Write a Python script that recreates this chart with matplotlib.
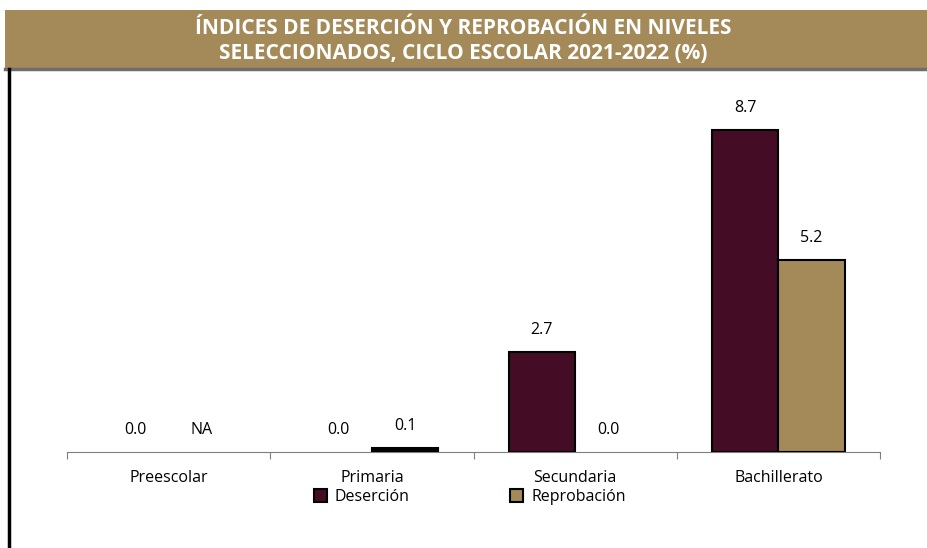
import matplotlib.pyplot as plt
import numpy as np
from matplotlib.patches import Rectangle
from matplotlib.lines import Line2D

# Data
niveles = ["Preescolar", "Primaria", "Secundaria", "Bachillerato"]
desercion = [0.0, 0.0, 2.7, 8.7]
reprobacion = [0.0, 0.1, 0.0, 5.2]
etiq_desercion = ["0.0", "0.0", "2.7", "8.7"]
etiq_reprobacion = ["NA", "0.1", "0.0", "5.2"]

color_des = "#450c25"
color_rep = "#a38a58"

plt.rcParams["font.family"] = ["Open Sans", "DejaVu Sans"]

fig = plt.figure(figsize=(9.27, 5.48), dpi=100)
fig.patch.set_facecolor("white")

# title band
fig.patches.append(Rectangle((5 / 927, 1 - 68 / 548), 1, 58 / 548,
                             transform=fig.transFigure, facecolor=color_rep,
                             edgecolor="none", zorder=0))
fig.lines.append(Line2D([5 / 927, 1], [1 - 69 / 548, 1 - 69 / 548],
                        transform=fig.transFigure, color="#6e6e6e", lw=2.5))
fig.lines.append(Line2D([8.5 / 927, 8.5 / 927], [0, 1 - 69 / 548],
                        transform=fig.transFigure, color="black", lw=2.5))
fig.text(0.5, 1 - 41 / 548,
         "ÍNDICES DE DESERCIÓN Y REPROBACIÓN EN NIVELES\nSELECCIONADOS, CICLO ESCOLAR 2021-2022 (%)",
         ha="center", va="center", color="white", fontsize=15, fontweight="bold",
         linespacing=1.2)

ax = fig.add_axes([67 / 927, 1 - 452 / 548, (880 - 67) / 927, (452 - 75) / 548])
x = np.arange(len(niveles))
w = 0.327
b1 = ax.bar(x - w / 2, desercion, w, color=color_des, edgecolor="black", lw=1.5,
            label="Deserción", zorder=3)
b2 = ax.bar(x + w / 2, reprobacion, w, color=color_rep, edgecolor="black", lw=1.5,
            label="Reprobación", zorder=3)

# las barras en cero no muestran borde
for rect in list(b1) + list(b2):
    if rect.get_height() == 0:
        rect.set_linewidth(0)
b2[1].set_facecolor("black")

for rect, txt in zip(b1, etiq_desercion):
    ax.annotate(txt, (rect.get_x() + rect.get_width() / 2, rect.get_height()),
                xytext=(0, 10), textcoords="offset points", ha="center", va="bottom",
                fontsize=11.5)
for rect, txt in zip(b2, etiq_reprobacion):
    ax.annotate(txt, (rect.get_x() + rect.get_width() / 2, rect.get_height()),
                xytext=(0, 10), textcoords="offset points", ha="center", va="bottom",
                fontsize=11.5)

ax.set_xlim(-0.5, 3.5)
ax.set_ylim(0, (452 - 75) / 37)
ax.set_yticks([])
ax.set_xticks(np.arange(-0.5, 4, 1))
ax.set_xticklabels([])
ax.set_xticks(x, minor=True)
ax.set_xticklabels(niveles, minor=True, fontsize=11.5)
ax.tick_params(axis="x", which="major", length=5, color="#7f7f7f")
ax.tick_params(axis="x", which="minor", length=0, pad=13)
for s in ["top", "left", "right"]:
    ax.spines[s].set_visible(False)
ax.spines["bottom"].set_color("#7f7f7f")

leg = fig.legend(handles=[b1, b2], loc="center", bbox_to_anchor=(0.507, 1 - 497 / 548),
                 ncol=2, frameon=False, fontsize=11.5, handlelength=0.8, handleheight=0.8,
                 handletextpad=0.5, columnspacing=6.3)
for h in leg.legend_handles:
    h.set_linewidth(1.5)

plt.savefig("out.png", dpi=100)
